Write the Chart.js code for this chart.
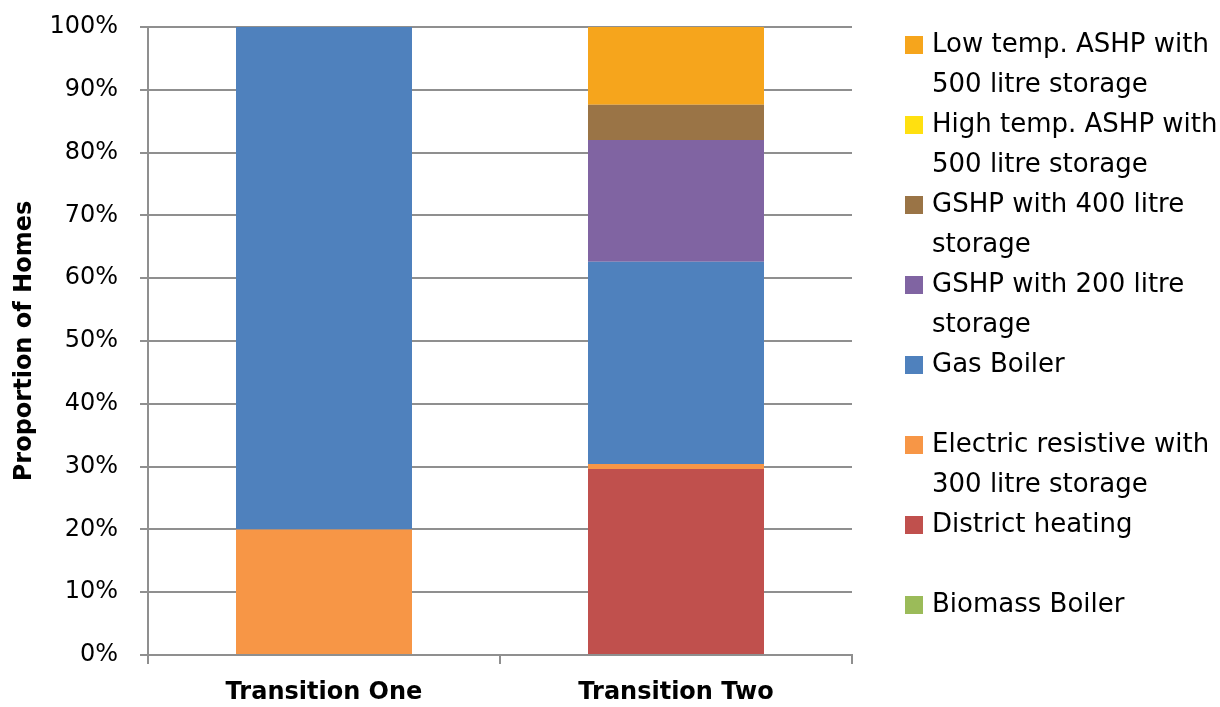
<!DOCTYPE html>
<html>
<head>
<meta charset="utf-8">
<title>Proportion of Homes by Heating Technology</title>
<script src="https://cdn.jsdelivr.net/npm/chart.js@4/dist/chart.umd.min.js"></script>
<style>
  html, body { margin: 0; padding: 0; background: #ffffff; }
  #wrap { width: 1220px; height: 707px; }
</style>
</head>
<body>
<div id="wrap"><canvas id="chart" width="1220" height="707"></canvas></div>
<script>
// Scenario categories
const categories = ['Transition One', 'Transition Two'];

// Share of homes (%) per heating technology, stacked bottom to top
const biomassBoiler     = [0, 0];
const districtHeating   = [0, 29.6];
const electricResistive = [20, 0.8];
const gasBoiler         = [80, 32.2];
const gshp200           = [0, 19.4];
const gshp400           = [0, 5.6];
const highTempAshp      = [0, 0];
const lowTempAshp       = [0, 12.4];

// Series names, bottom to top
const seriesNames = [
  'Biomass Boiler',
  'District heating',
  'Electric resistive with 300 litre storage',
  'Gas Boiler',
  'GSHP with 200 litre storage',
  'GSHP with 400 litre storage',
  'High temp. ASHP with 500 litre storage',
  'Low temp. ASHP with 500 litre storage'
];
const seriesValues = [biomassBoiler, districtHeating, electricResistive, gasBoiler,
                      gshp200, gshp400, highTempAshp, lowTempAshp];
const seriesColors = ['#9BBB59', '#C0504D', '#F79646', '#4F81BD',
                      '#8064A2', '#9A7446', '#FFE010', '#F6A51C'];

// Y-axis tick values (percent)
const yTicks = [0, 10, 20, 30, 40, 50, 60, 70, 80, 90, 100];

// Legend entries followed by an empty row
const legendSpacersAfter = ['Gas Boiler', 'District heating'];

const GRID = '#8f8f8f';
const FONT = "'DejaVu Sans', sans-serif";

// Right-hand legend with wrapped labels
const sideLegend = {
  id: 'sideLegend',
  afterDraw(chart) {
    const ctx = chart.ctx;
    const x0 = 905, textX = 932, box = 18, lineH = 40, maxW = 295;
    let y = 45;
    ctx.save();
    ctx.font = '26px ' + FONT;
    ctx.textBaseline = 'middle';
    ctx.textAlign = 'left';
    const ds = chart.data.datasets.slice().reverse();
    ds.forEach(d => {
      const words = d.label.split(' ');
      const lines = [];
      let cur = '';
      words.forEach(w => {
        const test = cur ? cur + ' ' + w : w;
        if (ctx.measureText(test).width > maxW && cur) { lines.push(cur); cur = w; }
        else cur = test;
      });
      if (cur) lines.push(cur);
      ctx.fillStyle = d.backgroundColor;
      ctx.fillRect(x0, y - box / 2, box, box);
      ctx.fillStyle = '#000000';
      lines.forEach(l => { ctx.fillText(l, textX, y); y += lineH; });
      if (legendSpacersAfter.includes(d.label)) y += lineH;
    });
    ctx.restore();
  }
};

new Chart(document.getElementById('chart'), {
  type: 'bar',
  data: {
    labels: categories,
    datasets: seriesNames.map((name, i) => ({
      label: name,
      data: seriesValues[i],
      backgroundColor: seriesColors[i],
      borderWidth: 0,
      categoryPercentage: 1.0,
      barPercentage: 0.5
    }))
  },
  options: {
    responsive: false,
    animation: false,
    layout: { padding: { top: 27, right: 368, left: 0, bottom: 0 } },
    plugins: {
      legend: { display: false },
      tooltip: { enabled: false }
    },
    scales: {
      x: {
        stacked: true,
        offset: true,
        grid: {
          offset: true,
          drawOnChartArea: false,
          drawTicks: true,
          tickLength: 9,
          color: GRID,
          lineWidth: 2
        },
        border: { display: true, color: GRID, width: 2 },
        ticks: {
          color: '#000000',
          padding: 14,
          font: { family: FONT, size: 24, weight: 'bold' }
        },
        afterFit(scale) { scale.height = 707 - 655; }
      },
      y: {
        stacked: true,
        min: 0,
        max: 100,
        afterBuildTicks(scale) { scale.ticks = yTicks.map(v => ({ value: v })); },
        grid: {
          drawTicks: true,
          tickLength: 8,
          color: GRID,
          lineWidth: 2
        },
        border: { display: true, color: GRID, width: 2 },
        ticks: {
          color: '#000000',
          padding: 22,
          font: { family: FONT, size: 24 },
          callback: v => v + '%'
        },
        title: {
          display: true,
          text: 'Proportion of Homes',
          color: '#000000',
          padding: { top: 10, bottom: 0 },
          font: { family: FONT, size: 24, weight: 'bold' }
        },
        afterFit(scale) {
          scale.width = 148;
          scale.paddingTop = 0;
          scale.paddingBottom = 0;
        }
      }
    }
  },
  plugins: [sideLegend]
});
</script>
</body>
</html>
